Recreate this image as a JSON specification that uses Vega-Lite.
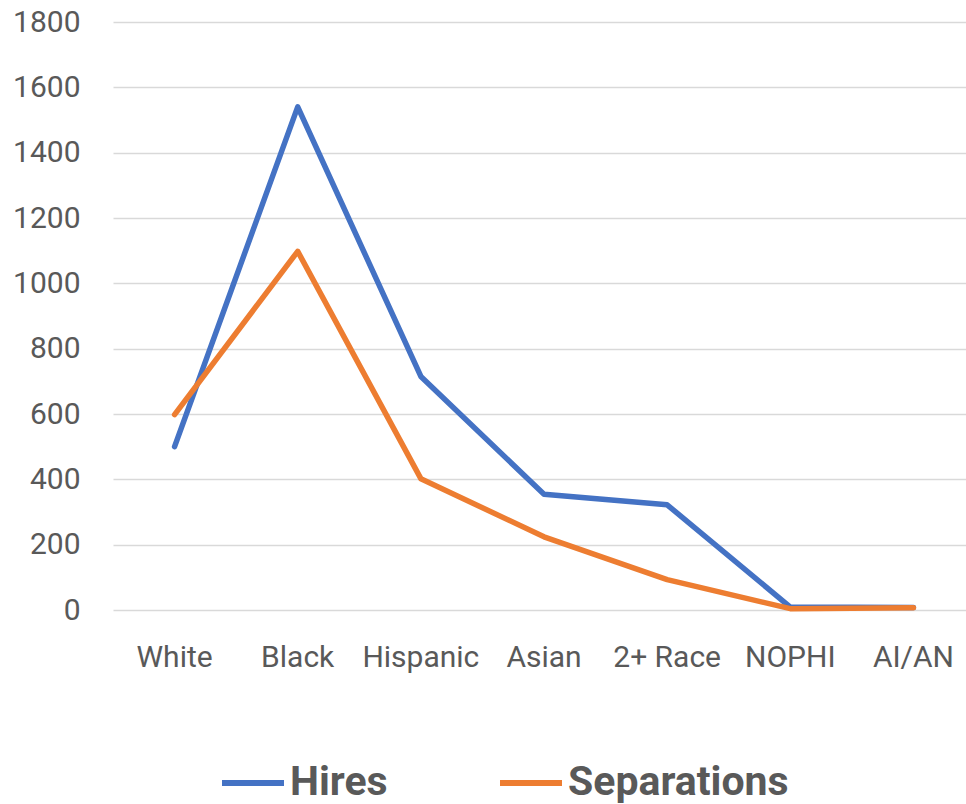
{
  "$schema": "https://vega.github.io/schema/vega-lite/v6.json",
  "width": 862,
  "height": 588,
  "autosize": {"type": "none"},
  "padding": {"left": 113, "top": 22, "right": -9, "bottom": 194},
  "background": "white",
  "config": {
    "view": {"stroke": null},
    "font": "Roboto"
  },
  "data": {
    "values": [
      {"group": "White", "series": "Hires", "value": 500},
      {"group": "Black", "series": "Hires", "value": 1540},
      {"group": "Hispanic", "series": "Hires", "value": 715},
      {"group": "Asian", "series": "Hires", "value": 354},
      {"group": "2+ Race", "series": "Hires", "value": 322},
      {"group": "NOPHI", "series": "Hires", "value": 9},
      {"group": "AI/AN", "series": "Hires", "value": 8},
      {"group": "White", "series": "Separations", "value": 598},
      {"group": "Black", "series": "Separations", "value": 1098},
      {"group": "Hispanic", "series": "Separations", "value": 402},
      {"group": "Asian", "series": "Separations", "value": 224},
      {"group": "2+ Race", "series": "Separations", "value": 93},
      {"group": "NOPHI", "series": "Separations", "value": 4},
      {"group": "AI/AN", "series": "Separations", "value": 7}
    ]
  },
  "mark": {"type": "line", "strokeWidth": 5.5, "strokeCap": "round", "strokeJoin": "round"},
  "encoding": {
    "x": {
      "field": "group",
      "type": "nominal",
      "sort": ["White", "Black", "Hispanic", "Asian", "2+ Race", "NOPHI", "AI/AN"],
      "scale": {"type": "band", "paddingInner": 0, "paddingOuter": 0},
      "axis": {
        "title": null,
        "domain": false,
        "ticks": false,
        "tickSize": 0,
        "grid": false,
        "labelAngle": 0,
        "labelFont": "Roboto",
        "labelFontSize": 30,
        "labelColor": "#595959",
        "labelBaseline": "alphabetic",
        "labelPadding": 56
      }
    },
    "y": {
      "field": "value",
      "type": "quantitative",
      "scale": {"domain": [0, 1800], "nice": false},
      "axis": {
        "title": null,
        "values": [0, 200, 400, 600, 800, 1000, 1200, 1400, 1600, 1800],
        "format": "d",
        "domain": false,
        "ticks": false,
        "tickSize": 0,
        "grid": true,
        "gridColor": "#d9d9d9",
        "gridWidth": 1.5,
        "labelFont": "Roboto",
        "labelFontSize": 30,
        "labelColor": "#595959",
        "labelPadding": 33,
        "labelBaseline": "middle"
      }
    },
    "color": {
      "field": "series",
      "type": "nominal",
      "scale": {"domain": ["Hires", "Separations"], "range": ["#4472C4", "#ED7D31"]},
      "legend": {
        "title": null,
        "orient": "none",
        "direction": "horizontal",
        "legendX": 106,
        "legendY": 727,
        "padding": 0,
        "symbolType": "stroke",
        "symbolSize": 3844,
        "symbolStrokeWidth": 6,
        "labelFont": "Roboto",
        "labelFontSize": 41,
        "labelFontWeight": "bold",
        "labelColor": "#595959",
        "labelOffset": 3,
        "labelLimit": 400,
        "columnPadding": 100
      }
    }
  }
}
